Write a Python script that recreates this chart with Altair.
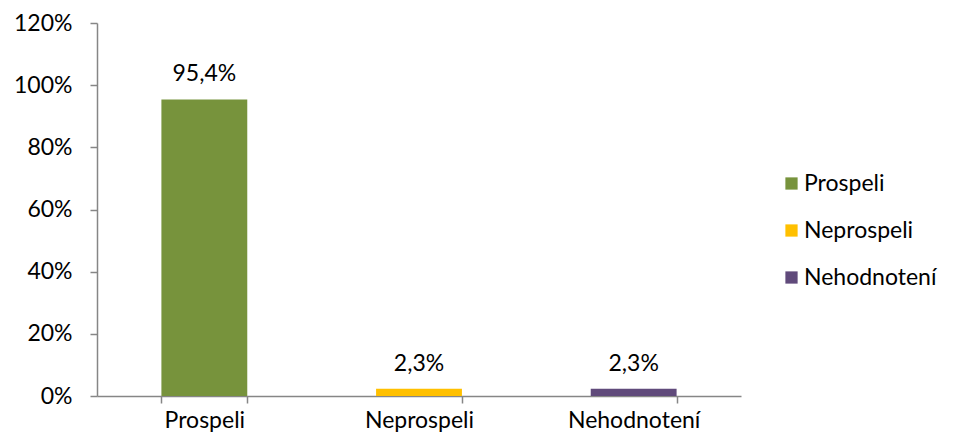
import altair as alt
import pandas as pd

categories = ["Prospeli", "Neprospeli", "Nehodnotení"]
values = [0.954, 0.023, 0.023]
colors = ["#77933C", "#FFC000", "#604A7B"]

df = pd.DataFrame({"kat": categories, "v": values})

FONT = "Lato"
FS = 23
AX = "#868686"

base = alt.Chart(df).encode(
    x=alt.X("kat:N", sort=categories,
            scale=alt.Scale(paddingInner=0.6, paddingOuter=0.3),
            axis=alt.Axis(title=None, labelAngle=0, tickBand="extent",
                          labelFontSize=FS, labelFont=FONT, labelColor="#000",
                          domainColor=AX, tickColor=AX, domainWidth=1.5, tickWidth=1.5,
                          tickSize=7, labelPadding=6)),
    y=alt.Y("v:Q", scale=alt.Scale(domain=[0, 1.2], nice=False),
            axis=alt.Axis(title=None, format=".0%", values=[0, 0.2, 0.4, 0.6, 0.8, 1.0, 1.2],
                          grid=False, labelFontSize=FS, labelFont=FONT, labelColor="#000",
                          domainColor=AX, tickColor=AX, domainWidth=1.5, tickWidth=1.5,
                          tickSize=7, labelPadding=18)),
)

bars = base.mark_bar().encode(
    color=alt.Color("kat:N", sort=categories,
                    scale=alt.Scale(domain=categories, range=colors),
                    legend=alt.Legend(title=None, orient="none", legendX=683, legendY=149,
                                      symbolType="square", symbolSize=150,
                                      symbolStrokeWidth=0, labelFontSize=FS,
                                      labelFont=FONT, labelColor="#000",
                                      rowPadding=23, labelOffset=1))
)

labels = base.transform_calculate(
    lab="replace(format(datum.v, '.1%'), '.', ',')"
).mark_text(dy=-13, baseline="bottom", fontSize=FS, font=FONT, color="#000").encode(
    text="lab:N"
)

chart = (bars + labels).properties(
    width=644, height=373,
    padding={"left": 89, "top": 15, "right": 205, "bottom": 51},
    autosize=alt.AutoSizeParams(type="none"),
).configure_view(stroke=None)

chart.save("out.html", embed_options={"renderer": "svg", "actions": False})
